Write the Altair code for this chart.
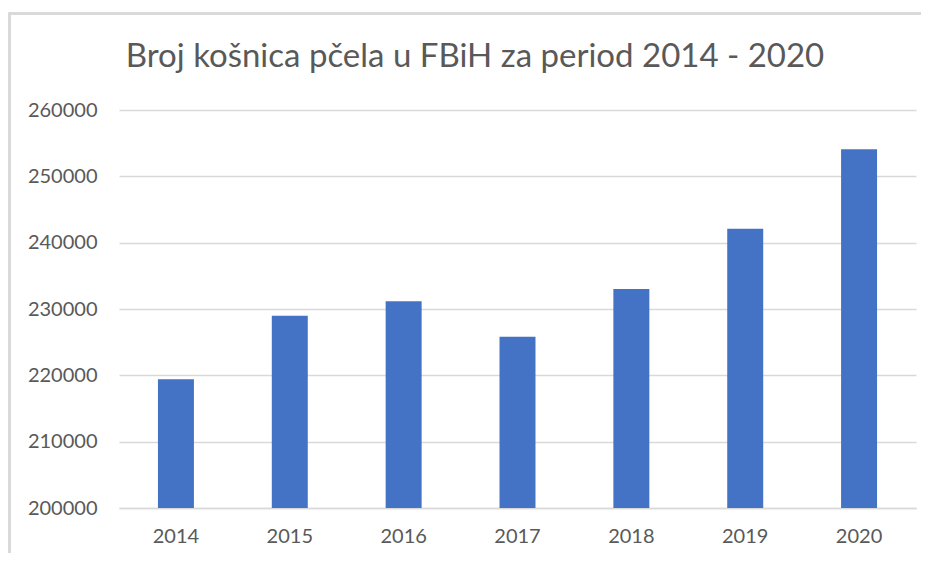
import altair as alt
import pandas as pd

years = ["2014", "2015", "2016", "2017", "2018", "2019", "2020"]
hives = [219400, 229000, 231150, 225800, 233000, 242100, 254070]
y_ticks = [200000, 210000, 220000, 230000, 240000, 250000, 260000]
title_text = ["Broj košnica pčela u FBiH za period 2014 - 2020"]

df = pd.DataFrame({"year": years, "hives": hives})
tdf = pd.DataFrame({"t": title_text})

FONT = "Lato"
GREY = "#595959"
GRID = "#D9D9D9"

bars = alt.Chart(df).mark_bar(color="#4472C4", clip=True).encode(
    x=alt.X("year:N", sort=years, title=None,
            scale=alt.Scale(paddingInner=0.684, paddingOuter=0.342),
            axis=alt.Axis(labelAngle=0, ticks=False, domain=True, domainColor=GRID,
                          domainWidth=1.3, labelPadding=18, labelFont=FONT,
                          labelFontSize=20, labelColor=GREY)),
    y=alt.Y("hives:Q", title=None,
            scale=alt.Scale(domain=[200000, 260000], nice=False, zero=False),
            axis=alt.Axis(values=y_ticks, format="d", ticks=False, domain=False,
                          gridColor=GRID, gridWidth=1.3, labelPadding=22,
                          labelFont=FONT, labelFontSize=20, labelColor=GREY)),
)

left_border = alt.Chart(df).mark_rule(color=GRID, strokeWidth=2).encode(
    x=alt.value(-109.5), y=alt.value(-97), y2=alt.value(460)
)
top_border = alt.Chart(df).mark_rule(color=GRID, strokeWidth=2).encode(
    x=alt.value(-110.5), x2=alt.value(820), y=alt.value(-96.5)
)

title = alt.Chart(tdf).mark_text(
    font=FONT, fontSize=33, color=GREY, align="center", baseline="alphabetic"
).encode(text="t:N", x=alt.value(356), y=alt.value(-43))

chart = alt.layer(left_border, top_border, title, bars).properties(
    width=797,
    height=398,
    autosize=alt.AutoSizeParams(type="none"),
    padding={"left": 111, "top": 102, "right": 5, "bottom": 45},
).configure_view(stroke=None)

chart.save("out.html", embed_options={"renderer": "svg", "actions": False})
